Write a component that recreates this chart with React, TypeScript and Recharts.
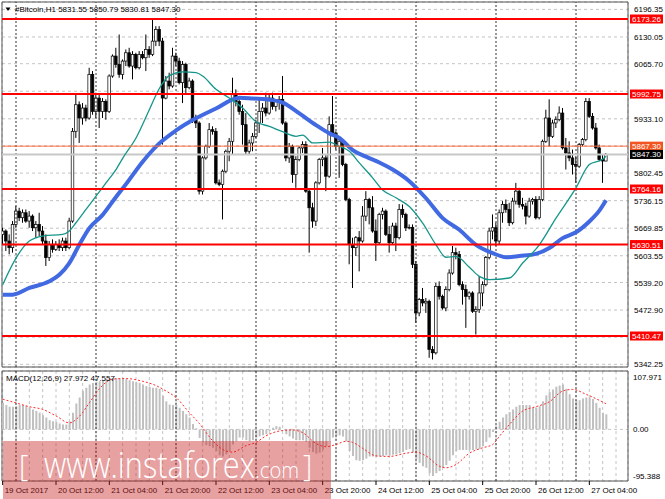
import React from 'react';
import { ComposedChart, Bar, Line, XAxis, YAxis, CartesianGrid, ReferenceLine, ReferenceArea } from 'recharts';

const FONT = '"Liberation Sans", Arial, sans-serif';

// #Bitcoin H1, bar 0 = 19 Oct 20:00, [open, high, low, close]
const candles: number[][] = [
  [5655, 5671, 5631, 5663], [5663, 5667, 5615, 5639], [5639, 5655, 5607, 5623], [5623, 5687, 5611, 5679],
  [5679, 5723, 5671, 5711], [5711, 5719, 5687, 5695], [5695, 5715, 5683, 5707], [5707, 5715, 5683, 5687],
  [5687, 5711, 5671, 5699], [5699, 5703, 5663, 5671], [5671, 5687, 5647, 5679], [5679, 5707, 5651, 5663],
  [5663, 5675, 5631, 5639], [5639, 5655, 5579, 5599], [5599, 5639, 5591, 5631], [5631, 5643, 5611, 5619],
  [5619, 5639, 5615, 5631], [5631, 5643, 5615, 5623], [5623, 5647, 5615, 5639], [5639, 5647, 5615, 5623],
  [5623, 5695, 5619, 5687], [5687, 5911, 5683, 5903], [5903, 5992, 5887, 5967], [5967, 5975, 5875, 5935],
  [5935, 5971, 5919, 5959], [5959, 5967, 5927, 5935], [5935, 6056, 5931, 6040], [6040, 6048, 5943, 5951],
  [5951, 5996, 5935, 5983], [5983, 5992, 5911, 5951], [5951, 5983, 5935, 5975], [5975, 5980, 5931, 5951],
  [5951, 6040, 5947, 6036], [6036, 6088, 6032, 6084], [6084, 6104, 6056, 6064], [6064, 6136, 6032, 6040],
  [6040, 6076, 6028, 6072], [6072, 6100, 6060, 6092], [6092, 6104, 6056, 6060], [6060, 6096, 6028, 6088],
  [6088, 6092, 6052, 6056], [6056, 6096, 6052, 6088], [6088, 6096, 6076, 6080], [6080, 6136, 6048, 6100],
  [6100, 6108, 6080, 6088], [6088, 6172, 6084, 6120], [6120, 6156, 6108, 6148], [6148, 6156, 6108, 6120],
  [6120, 6128, 5871, 5983], [5983, 6036, 5980, 6024], [6024, 6044, 6004, 6012], [6012, 6104, 6008, 6084],
  [6084, 6092, 6060, 6072], [6072, 6080, 6016, 6020], [6020, 6072, 5971, 6064], [6064, 6068, 5992, 6008],
  [6008, 6032, 6004, 6024], [6024, 6028, 5923, 5931], [5931, 5943, 5911, 5923], [5923, 5927, 5751, 5759],
  [5759, 5843, 5751, 5839], [5839, 5871, 5835, 5867], [5867, 5923, 5863, 5907], [5907, 5915, 5895, 5903],
  [5903, 5911, 5775, 5779], [5779, 5787, 5771, 5775], [5775, 5811, 5691, 5807], [5807, 5859, 5803, 5855],
  [5855, 5887, 5831, 5879], [5879, 6032, 5847, 5992], [5992, 6004, 5963, 5975], [5975, 5988, 5943, 5951],
  [5951, 5967, 5871, 5919], [5919, 5947, 5847, 5855], [5855, 5883, 5847, 5875], [5875, 5899, 5855, 5891],
  [5891, 5931, 5887, 5923], [5923, 5983, 5899, 5951], [5951, 5971, 5923, 5959], [5959, 5996, 5939, 5947],
  [5947, 5992, 5943, 5983], [5983, 5996, 5955, 5963], [5963, 5980, 5951, 5975], [5975, 5988, 5955, 5980],
  [5980, 6036, 5919, 5923], [5923, 5927, 5831, 5839], [5839, 5875, 5827, 5867], [5867, 5871, 5779, 5799],
  [5799, 5843, 5767, 5835], [5835, 5867, 5831, 5863], [5863, 5879, 5851, 5871], [5871, 5879, 5755, 5759],
  [5759, 5763, 5611, 5719], [5719, 5731, 5671, 5687], [5687, 5783, 5675, 5779], [5779, 5839, 5775, 5835],
  [5835, 5863, 5819, 5839], [5839, 5847, 5759, 5795], [5795, 5939, 5791, 5919], [5919, 5988, 5895, 5899],
  [5899, 5903, 5859, 5867], [5867, 5887, 5791, 5879], [5879, 5883, 5819, 5823], [5823, 5827, 5735, 5739],
  [5739, 5743, 5583, 5631], [5631, 5647, 5526, 5623], [5623, 5651, 5603, 5647], [5647, 5663, 5566, 5639],
  [5639, 5723, 5635, 5699], [5699, 5759, 5687, 5739], [5739, 5743, 5679, 5719], [5719, 5747, 5659, 5663],
  [5663, 5691, 5591, 5635], [5635, 5707, 5631, 5703], [5703, 5719, 5691, 5711], [5711, 5715, 5651, 5655],
  [5655, 5675, 5611, 5635], [5635, 5683, 5631, 5675], [5675, 5683, 5615, 5647], [5647, 5728, 5643, 5715],
  [5715, 5727, 5695, 5703], [5703, 5707, 5663, 5671], [5671, 5679, 5667, 5672], [5672, 5679, 5574, 5583],
  [5583, 5591, 5442, 5466], [5466, 5502, 5458, 5498], [5498, 5526, 5482, 5490], [5490, 5502, 5466, 5494],
  [5494, 5498, 5358, 5378], [5378, 5386, 5354, 5370], [5370, 5538, 5366, 5530], [5530, 5542, 5498, 5506],
  [5506, 5510, 5474, 5478], [5478, 5530, 5470, 5522], [5522, 5571, 5518, 5562], [5562, 5627, 5558, 5611],
  [5611, 5623, 5595, 5607], [5607, 5615, 5530, 5534], [5534, 5542, 5486, 5522], [5522, 5534, 5430, 5506],
  [5506, 5518, 5498, 5514], [5514, 5518, 5466, 5470], [5470, 5482, 5414, 5474], [5474, 5554, 5466, 5514],
  [5514, 5542, 5482, 5534], [5534, 5603, 5530, 5599], [5599, 5671, 5595, 5663], [5663, 5703, 5643, 5671],
  [5671, 5683, 5627, 5639], [5639, 5715, 5631, 5707], [5707, 5735, 5683, 5727], [5727, 5739, 5707, 5715],
  [5715, 5731, 5675, 5683], [5683, 5743, 5679, 5735], [5735, 5779, 5727, 5759], [5759, 5767, 5719, 5727],
  [5727, 5743, 5715, 5723], [5723, 5731, 5679, 5699], [5699, 5743, 5695, 5735], [5735, 5743, 5727, 5739],
  [5739, 5747, 5691, 5695], [5695, 5747, 5691, 5739], [5739, 5883, 5735, 5879], [5879, 5955, 5875, 5935],
  [5935, 5980, 5867, 5891], [5891, 5931, 5887, 5923], [5923, 5939, 5911, 5931], [5931, 5963, 5927, 5947],
  [5947, 5959, 5859, 5863], [5863, 5887, 5811, 5851], [5851, 5879, 5831, 5839], [5839, 5859, 5799, 5823],
  [5823, 5843, 5779, 5819], [5819, 5875, 5815, 5871], [5871, 5887, 5867, 5883], [5883, 5983, 5879, 5975],
  [5975, 5983, 5935, 5939], [5939, 5947, 5907, 5911], [5911, 5923, 5859, 5863], [5863, 5871, 5831, 5835],
  [5835, 5847, 5779, 5831.55], [5831.55, 5850.79, 5830.81, 5847.3],
];

// moving averages: [bar, value]
const fastMa: number[][] = [
  [0, 5534], [4, 5598], [8, 5639], [12, 5651], [18, 5655], [20, 5663], [22, 5683], [25, 5715],
  [28, 5747], [31, 5779], [34, 5811], [36, 5838], [40, 5887], [44, 5955], [47, 6006], [50, 6037],
  [54, 6046], [58, 6044], [60, 6036], [64, 6004], [68, 5983], [72, 5959], [76, 5926], [80, 5915],
  [84, 5902], [88, 5891], [90, 5894], [93, 5875], [98, 5877], [101, 5867], [104, 5855], [107, 5827],
  [111, 5791], [114, 5762], [118, 5743], [122, 5722], [126, 5682], [130, 5630], [133, 5600], [136, 5602],
  [140, 5576], [143, 5554], [146, 5546], [152, 5550], [156, 5586], [161, 5630], [166, 5694], [172, 5767],
  [176, 5823], [180, 5836], [181, 5843],
];
const slowMa: number[][] = [
  [0, 5510], [3, 5510], [8, 5526], [14, 5542], [17, 5558], [20, 5586], [23, 5630], [26, 5670],
  [30, 5702], [34, 5745], [37, 5776], [42, 5830], [47, 5874], [52, 5905], [57, 5930], [64, 5958],
  [71, 5984], [75, 5982], [81, 5978], [84, 5972], [89, 5946], [94, 5918], [98, 5898], [101, 5887],
  [105, 5858], [109, 5842], [113, 5828], [117, 5811], [122, 5783], [127, 5742], [132, 5694], [137, 5666],
  [142, 5630], [147, 5610], [151, 5600], [155, 5603], [160, 5608], [164, 5622], [168, 5646], [172, 5660],
  [176, 5686], [179, 5712], [181, 5737],
];

// MACD(12,26,9) main histogram, one value per bar
const macdHist: number[] = [
  49, 45, 42, 42, 43, 45, 45, 43, 40, 37,
  34, 31, 26, 22, 17, 15, 14, 11, 9, 9,
  15, 31, 48, 59, 71, 77, 83, 86, 88, 89,
  91, 93, 94, 95, 95, 94, 93, 93, 91, 89,
  88, 86, 83, 80, 79, 77, 77, 75, 62, 52,
  46, 45, 45, 40, 34, 28, 22, 10, 2, -16,
  -24, -29, -31, -34, -40, -48, -50, -46, -40, -28,
  -22, -15, -15, -20, -22, -20, -15, -13, -11, -9,
  -3, 3, 6, 5, 0, -9, -13, -17, -20, -20,
  -20, -23, -34, -42, -45, -43, -37, -31, -22, -15,
  -12, -11, -13, -22, -40, -49, -57, -58, -57, -54,
  -50, -50, -50, -50, -49, -48, -48, -47, -46, -44,
  -42, -38, -36, -42, -55, -62, -68, -71, -81, -86,
  -81, -77, -71, -66, -58, -48, -40, -38, -38, -38,
  -38, -38, -37, -36, -31, -23, -15, -5, 5, 14,
  22, 28, 32, 37, 42, 45, 45, 45, 45, 40,
  40, 43, 52, 63, 69, 74, 79, 81, 83, 75,
  65, 57, 54, 54, 57, 59, 59, 56, 49, 40,
  31, 27.972,
];
// signal line: [bar, value]
const macdSignal: number[][] = [
  [0, 56], [4, 49], [8, 42], [12, 37], [16, 25], [20, 12], [23, 24], [26, 49], [29, 75], [33, 93],
  [37, 94], [42, 89], [46, 81], [49, 71], [52, 59], [56, 31], [59, 11], [63, -21], [67, -40], [69, -42],
  [73, -30], [76, -24], [79, -12], [83, -3], [87, -1], [90, -6], [94, -26], [97, -32], [100, -28], [103, -22],
  [105, -24], [108, -35], [112, -49], [116, -50], [121, -44], [124, -42], [127, -49], [131, -68], [133, -71], [136, -65],
  [140, -44], [144, -34], [147, -28], [149, -13], [152, 9], [156, 34], [160, 42], [164, 51], [168, 71], [171, 74],
  [175, 65], [181, 47.557],
];

const timeTicks = [0, 16, 32, 48, 64, 80, 96, 112, 128, 144, 160, 176];
const timeLabels = [
  '19 Oct 2017', '20 Oct 12:00', '21 Oct 04:00', '21 Oct 20:00', '22 Oct 12:00', '23 Oct 04:00',
  '23 Oct 20:00', '24 Oct 12:00', '25 Oct 04:00', '25 Oct 20:00', '26 Oct 12:00', '27 Oct 04:00',
];
const daySeparators = [4, 28, 52, 76, 100, 124, 148, 172];
const gridTicks = Array.from({ length: 47 }, (_, k) => k * 4);

const priceGrid = [6196.35, 6130.05, 6065.7, 5999.4, 5933.1, 5867.77, 5802.45, 5736.15, 5669.85, 5603.55, 5539.2, 5472.9, 5407.57, 5342.25];
const coveredTicks = [5999.4, 5867.77, 5407.57];
const levelLines = [6173.26, 5992.75, 5764.16, 5630.51, 5410.47];
const orangeLevel = 5867.3;
const bidPrice = 5847.3;

const macdTicks = [107.971, 0, -95.388];
const macdTickLabels = ['107.971', '0.00', '-95.388'];

const fastMap = new Map(fastMa.map(([i, v]) => [i, v]));
const slowMap = new Map(slowMa.map(([i, v]) => [i, v]));
const signalMap = new Map(macdSignal.map(([i, v]) => [i, v]));

const rows = candles.map(([o, h, l, c], i) => ({
  i, o, h, l, c,
  range: [l, h],
  fast: fastMap.has(i) ? fastMap.get(i) : null,
  slow: slowMap.has(i) ? slowMap.get(i) : null,
  hist: macdHist[i],
  signal: signalMap.has(i) ? signalMap.get(i) : null,
}));

const X_DOMAIN = [-0.2, 187.6];
const PRICE_DOMAIN = [5335.87, 6214.17];
const MACD_DOMAIN = [-95.388, 107.971];

const Candle = (props: any) => {
  const { x, y, width, height, payload } = props;
  if (x == null || !payload) return null;
  const top = Math.min(y, y + height);
  const span = Math.abs(height);
  const { o, h, l, c } = payload;
  const py = (v: number) => top + ((h - v) / (h - l || 1)) * span;
  const cx = x + width / 2;
  const bodyTop = py(Math.max(o, c));
  const bodyBot = py(Math.min(o, c));
  const bull = c >= o;
  return (
    <g>
      <line x1={cx} x2={cx} y1={top} y2={top + span} stroke="#000" strokeWidth={1} />
      <rect
        x={cx - 1.3}
        y={bodyTop}
        width={2.6}
        height={Math.max(bodyBot - bodyTop, 0.8)}
        fill={bull ? '#fff' : '#000'}
        stroke="#000"
        strokeWidth={0.7}
      />
    </g>
  );
};

const PriceTick = (props: any) => {
  const { x, y, payload } = props;
  const v = payload.value;
  if (coveredTicks.includes(v)) return <g />;
  let bg: string | null = null;
  if (levelLines.includes(v)) bg = '#ff0000';
  else if (v === orangeLevel) bg = '#f25522';
  else if (v === bidPrice) bg = '#000000';
  if (bg) {
    return (
      <g>
        <rect x={x + 2} y={y - 4.5} width={33} height={9} fill={bg} />
        <text x={x + 4} y={y + 3} fontSize={8} fill="#fff" fontFamily={FONT}>{v.toFixed(2)}</text>
      </g>
    );
  }
  return <text x={x + 6} y={y + 3} fontSize={8} fill="#000" fontFamily={FONT}>{v.toFixed(2)}</text>;
};

const MacdTick = (props: any) => {
  const { x, y, payload } = props;
  const k = macdTicks.indexOf(payload.value);
  if (k < 0) return <g />;
  const dy = k === 0 ? 8.5 : k === 2 ? -2.5 : 3;
  return <text x={x + 5} y={y + dy} fontSize={8} fill="#000" fontFamily={FONT}>{macdTickLabels[k]}</text>;
};

const TimeTick = (props: any) => {
  const { x, y, payload } = props;
  const k = timeTicks.indexOf(payload.value);
  if (k < 0) return <g />;
  return (
    <g>
      <line x1={x} x2={x} y1={y} y2={y + 4} stroke="#000" />
      <text x={x + 2} y={y + 12} fontSize={8} fill="#000" fontFamily={FONT}>{timeLabels[k]}</text>
    </g>
  );
};

const App = () => {
  return (
    <div style={{ position: 'absolute', left: 0, top: 0, width: 665, height: 499, background: '#fff', overflow: 'hidden', fontFamily: FONT }}>
      <div style={{ position: 'absolute', left: 0, top: 0 }}>
        <ComposedChart width={665} height={369} data={rows} margin={{ top: 2, right: 0, bottom: 2, left: 2 }}>
          <CartesianGrid stroke="#c4c4c4" strokeDasharray="3 3" />
          <XAxis dataKey="i" type="number" domain={X_DOMAIN} ticks={gridTicks} interval={0} allowDataOverflow
            height={0} tick={false} axisLine={false} tickLine={false} />
          <YAxis orientation="right" type="number" domain={PRICE_DOMAIN} allowDataOverflow width={37}
            ticks={[...priceGrid, orangeLevel, bidPrice, ...levelLines]} interval={0}
            axisLine={false} tickLine={false} tickSize={0} tickMargin={0} tick={<PriceTick />} />
          {daySeparators.map((d) => (
            <ReferenceLine key={'d' + d} x={d} stroke="#333" strokeDasharray="2 2" />
          ))}
          <ReferenceLine y={bidPrice} stroke="#c8c8c8" strokeWidth={2} />
          <Bar dataKey="range" shape={<Candle />} barSize={3} isAnimationActive={false} />
          <Line dataKey="slow" type="monotone" stroke="#4169e1" strokeWidth={4} dot={false} activeDot={false}
            connectNulls isAnimationActive={false} />
          <Line dataKey="fast" type="monotone" stroke="#15968a" strokeWidth={1.3} dot={false} activeDot={false}
            connectNulls isAnimationActive={false} />
          <ReferenceLine y={orangeLevel} stroke="#ff7040" strokeWidth={1} />
          {levelLines.map((v) => (
            <ReferenceLine key={'l' + v} y={v} stroke="#ff0000" strokeWidth={2} />
          ))}
          <ReferenceArea x1={X_DOMAIN[0]} x2={X_DOMAIN[1]} y1={PRICE_DOMAIN[0]} y2={PRICE_DOMAIN[1]}
            fill="none" stroke="#555" strokeWidth={1} fillOpacity={0} />
        </ComposedChart>
      </div>

      <div style={{ position: 'absolute', left: 0, top: 369 }}>
        <ComposedChart width={665} height={130} data={rows} margin={{ top: 2, right: 0, bottom: 0, left: 2 }}>
          <CartesianGrid stroke="#c4c4c4" strokeDasharray="3 3" />
          <XAxis dataKey="i" type="number" domain={X_DOMAIN} ticks={gridTicks} interval={0} allowDataOverflow
            height={18} axisLine={false} tickLine={false} tickSize={0} tickMargin={0} tick={<TimeTick />} />
          <YAxis orientation="right" type="number" domain={MACD_DOMAIN} allowDataOverflow width={37}
            ticks={macdTicks} interval={0} axisLine={false} tickLine={false} tickSize={0} tickMargin={0}
            tick={<MacdTick />} />
          {daySeparators.map((d) => (
            <ReferenceLine key={'m' + d} x={d} stroke="#333" strokeDasharray="2 2" />
          ))}
          <Bar dataKey="hist" fill="#c0c0c0" barSize={2} isAnimationActive={false} />
          <Line dataKey="signal" type="monotone" stroke="#ff2a2a" strokeWidth={1} strokeDasharray="2 2"
            dot={false} activeDot={false} connectNulls isAnimationActive={false} />
          <ReferenceArea x1={X_DOMAIN[0]} x2={X_DOMAIN[1]} y1={MACD_DOMAIN[0]} y2={MACD_DOMAIN[1]}
            fill="none" stroke="#555" strokeWidth={1} fillOpacity={0} />
        </ComposedChart>
      </div>

      <svg width={665} height={499} style={{ position: 'absolute', left: 0, top: 0, pointerEvents: 'none' }}>
        <polygon points="5.5,7.5 10.5,7.5 8,11" fill="#000" />
        <text x={15} y={12} fontSize={8} fill="#000" fontFamily={FONT}>#Bitcoin,H1 5831.55 5850.79 5830.81 5847.30</text>
        <text x={6} y={381} fontSize={8} fill="#000" fontFamily={FONT}>MACD(12,26,9) 27.972 47.557</text>
      </svg>

      <div style={{ position: 'absolute', left: 3, top: 441, width: 328, height: 58, background: 'rgba(200,30,30,0.42)' }}>
        <svg width={328} height={58}>
          <g fill="#fff" fontFamily='"Open Sans", sans-serif' fontWeight={300}>
            <text x={16} y={35} fontSize={29}>[</text>
            <text x={41} y={36.5} fontSize={36} textLength={211} lengthAdjust="spacingAndGlyphs">www.instaforex</text>
            <text x={252} y={36.5} fontSize={22} textLength={44} lengthAdjust="spacingAndGlyphs">.com</text>
            <text x={300} y={35} fontSize={29}>]</text>
          </g>
        </svg>
      </div>
    </div>
  );
};

export default App;
